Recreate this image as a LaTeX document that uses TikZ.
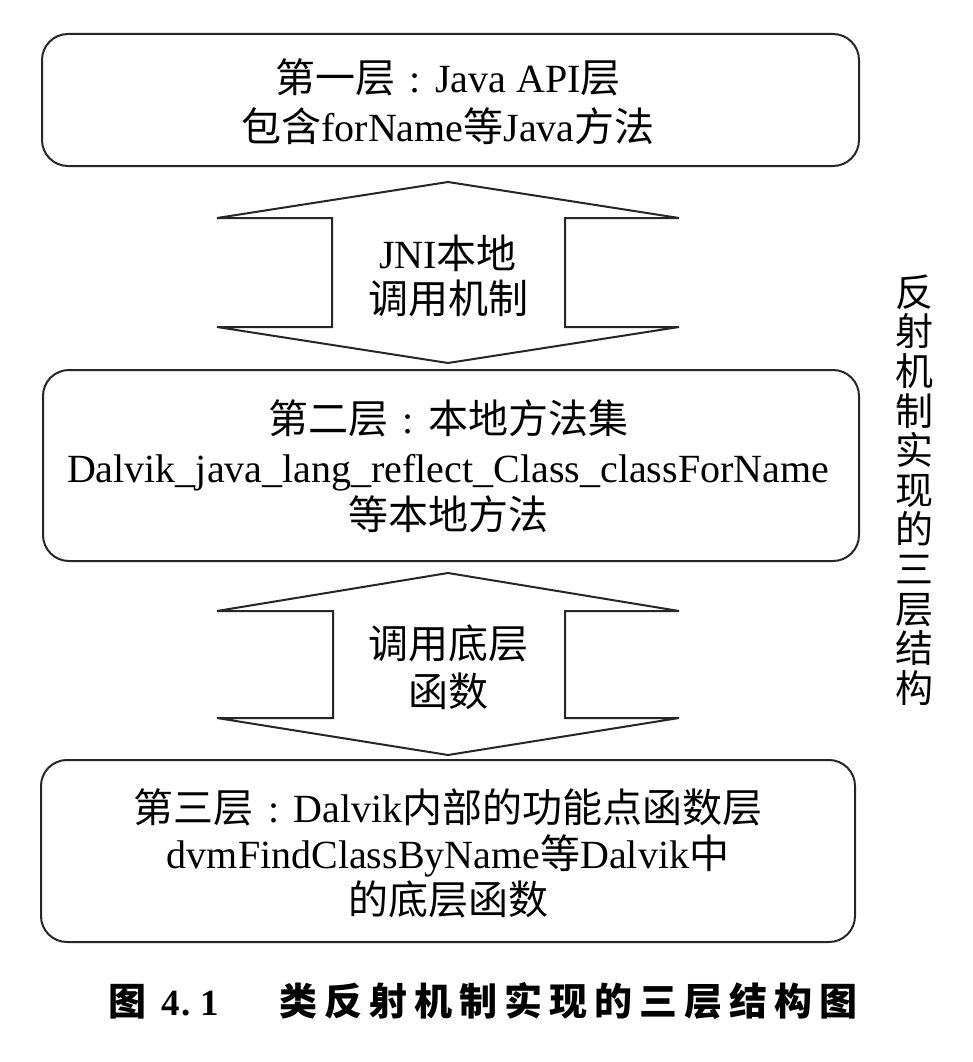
\documentclass[tikz,border=0pt]{standalone}
\usepackage{fontspec}
\setmainfont{Liberation Serif}
\newfontfamily\cjk{Noto Sans CJK SC}
\newcommand\capch[1]{\makebox[45pt]{#1}}
\newcommand\fwcolon{\makebox[1em]{:}}
\begin{document}
\begin{tikzpicture}[x=1pt,y=-1pt,
  layerbox/.style={draw=black!85, line width=2pt, rounded corners=26pt, inner sep=0pt},
  txt/.style={inner sep=0pt, anchor=base, font=\fontsize{40}{48}\selectfont},
  dblarrow/.style={draw=black!85, line width=2pt, line join=miter, fill=white},
  captxt/.style={inner sep=0pt, anchor=base west},
]
\useasboundingbox (0,0) rectangle (972,1062);
% layer boxes
\node[layerbox, minimum width=817pt, minimum height=132pt] (L1) at (450.5,100) {};
\node[layerbox, minimum width=816pt, minimum height=191pt] (L2) at (451,465.5) {};
\node[layerbox, minimum width=814pt, minimum height=182pt] (L3) at (448,851) {};
% double arrows
\draw[dblarrow] (448,182) -- (679,218) -- (565,218) -- (565,327) -- (679,327) -- (448,363)
  -- (217,327) -- (332,327) -- (332,218) -- (217,218) -- cycle;
\draw[dblarrow] (448,573) -- (679,611) -- (565,611) -- (565,718) -- (679,718) -- (448,755)
  -- (217,718) -- (333,718) -- (333,611) -- (217,611) -- cycle;
% texts
\node[txt] (T1a) at (448,93) {{\cjk 第一层}\fwcolon Java API{\cjk 层}};
\node[txt] (T1b) at (448,142) {{\cjk 包含}forName{\cjk 等}Java{\cjk 方法}};
\node[txt] (A1a) at (448,268) {JNI{\cjk 本地}};
\node[txt] (A1b) at (448,313) {{\cjk 调用机制}};
\node[txt] (T2a) at (448,433) {{\cjk 第二层}\fwcolon{\cjk 本地方法集}};
\node[txt] (T2b) at (448,482) {Dalvik\_java\_lang\_reflect\_Class\_classForName};
\node[txt] (T2c) at (448,529) {{\cjk 等本地方法}};
\node[txt] (A2a) at (448,658) {{\cjk 调用底层}};
\node[txt] (A2b) at (448,706) {{\cjk 函数}};
\node[txt] (T3a) at (448,822) {{\cjk 第三层}\fwcolon Dalvik{\cjk 内部的功能点函数层}};
\node[txt] (T3b) at (448,868) {dvmFindClassByName{\cjk 等}Dalvik{\cjk 中}};
\node[txt] (T3c) at (448,914) {{\cjk 的底层函数}};
% vertical side label
\node[inner sep=0pt, align=center, font=\cjk\fontsize{38}{39.6}\selectfont] (V) at (914,490)
  {反\\射\\机\\制\\实\\现\\的\\三\\层\\结\\构};
% caption
\node[captxt, font=\cjk\bfseries\fontsize{38}{38}\selectfont] (capA) at (108,1015) {图};
\node[captxt, font=\bfseries\fontsize{37}{37}\selectfont] (capN) at (161,1015) {4\kern2pt.\hspace{10pt}1};
\node[captxt, font=\cjk\bfseries\fontsize{38}{38}\selectfont] (capB) at (276,1015)
  {\capch{类}\capch{反}\capch{射}\capch{机}\capch{制}\capch{实}\capch{现}\capch{的}\capch{三}\capch{层}\capch{结}\capch{构}\capch{图}};
\end{tikzpicture}
\end{document}
